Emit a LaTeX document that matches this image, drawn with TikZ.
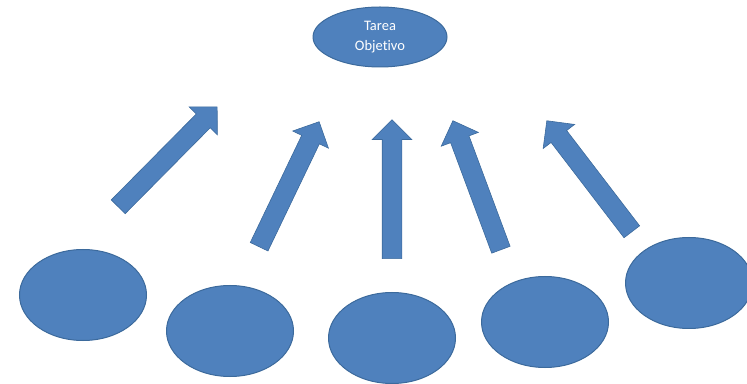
\documentclass[tikz,border=0pt]{standalone}
\usepackage{fontspec}
\setmainfont[Ligatures=NoCommon]{Carlito}
\usetikzlibrary{shapes.geometric,shapes.arrows,calc}
\definecolor{officeblue}{HTML}{4F81BD}
\definecolor{officeedge}{HTML}{3C6A9C}

\begin{document}
\begin{tikzpicture}[x=1pt,y=1pt,
  blob/.style={ellipse,fill=officeblue,draw=officeedge,line width=1pt,
    minimum width=127pt,minimum height=91pt},
  fatarrow/.style={single arrow,fill=officeblue,draw=officeedge,line width=0.6pt,
    inner xsep=0pt,inner ysep=9.5pt,single arrow head extend=10pt,
    single arrow tip angle=90}]
\useasboundingbox (0,0) rectangle (747,383);
\node[blob,minimum width=134pt,minimum height=60pt,text=white,align=center,
  font=\fontsize{14.5}{20}\selectfont] (goal) at (380,346) {Tarea\\Objetivo};
\foreach \k/\x/\y in {1/83/88, 2/230/52, 3/392/45, 4/545/61, 5/689/100}
  \node[blob] (src\k) at (\x,\y) {};
% block arrows, tail -> tip
\foreach \k/\tx/\ty/\hx/\hy in {1/118/176/217/276, 2/259/136/319/261,
    3/392/124/392/263, 4/501/133/453/262, 5/632/151/547/262}
{
  \coordinate (tail\k) at (\tx,\ty);
  \coordinate (tip\k) at (\hx,\hy);
  \path let \p1=($(tip\k)-(tail\k)$) in
    node[fatarrow,minimum height={veclen(\x1,\y1)},rotate={atan2(\y1,\x1)},
      anchor=tail] (arr\k) at (tail\k) {};
}
\end{tikzpicture}
\end{document}
